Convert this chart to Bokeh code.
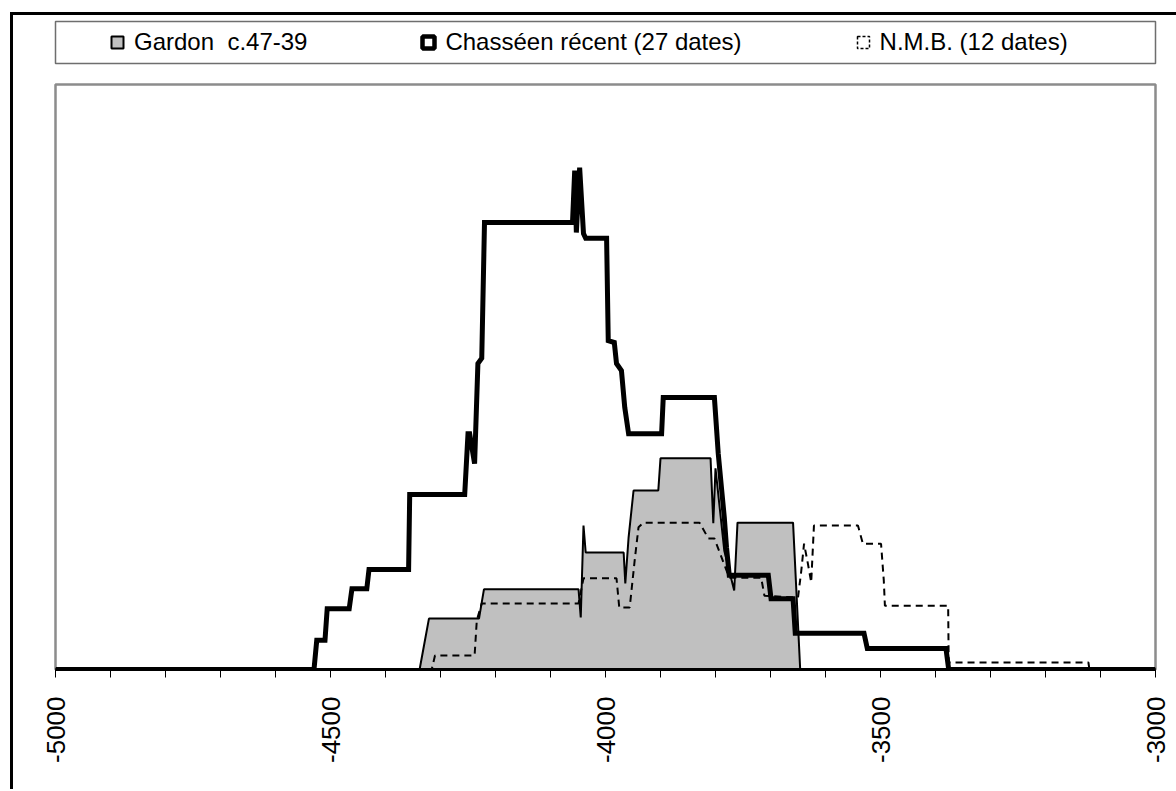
import math
from bokeh.plotting import figure
from bokeh.layouts import column
from bokeh.models import Range1d, FixedTicker, Legend, LegendItem
from bokeh.embed import file_html
from bokeh.resources import INLINE

# ---- data (years BC as negative numbers, relative summed probability) ----
gardon_label = "Gardon  c.47-39"
chasseen_label = "Chasséen récent (27 dates)"
nmb_label = "N.M.B. (12 dates)"

gardon_x = [-5000, -4338, -4330, -4321, -4230, -4221, -4049, -4045, -4040, -4036,
            -3967, -3964, -3958, -3949, -3904, -3900, -3809, -3804, -3800, -3784,
            -3766, -3760, -3659, -3646, -3000]
gardon_y = [0, 0, 4.1, 8.7, 8.7, 13.7, 13.7, 8.9, 24.6, 20.0,
            20.0, 14.7, 22.6, 30.6, 30.6, 36.1, 36.1, 25.0, 34.4, 20.3,
            13.5, 25.1, 25.1, 0, 0]

chasseen_x = [-5000, -4530, -4525, -4510, -4506, -4466, -4461, -4434, -4430, -4358,
              -4356, -4256, -4250, -4247, -4238, -4232, -4225, -4220, -4060, -4056,
              -4053, -4047, -4040, -4036, -3998, -3995, -3984, -3980, -3971, -3965,
              -3958, -3898, -3895, -3802, -3795, -3789, -3784, -3780, -3775, -3704,
              -3699, -3659, -3655, -3530, -3524, -3381, -3376, -3000]
chasseen_y = [0, 0, 5.0, 5.0, 10.4, 10.4, 13.8, 13.8, 17.1, 17.1,
              29.9, 29.9, 40.3, 40.3, 35.2, 52.3, 53.2, 76.4, 76.4, 85.3,
              74.7, 85.8, 74.5, 73.7, 73.7, 56.2, 55.9, 52.3, 51.1, 44.8,
              40.3, 40.3, 46.5, 46.5, 36.9, 30.9, 26.0, 20.9, 16.1, 16.1,
              12.1, 12.1, 6.2, 6.2, 3.6, 3.6, 0, 0]

nmb_x = [-5000, -4316, -4310, -4238, -4234, -4225, -4049, -4040, -3980, -3975,
         -3956, -3947, -3940, -3931, -3829, -3813, -3802, -3775, -3717, -3711,
         -3650, -3644, -3639, -3632, -3626, -3621, -3541, -3532, -3499, -3494,
         -3492, -3377, -3376, -3122, -3120, -3000]
nmb_y = [0, 0, 2.4, 2.4, 8.4, 11.3, 11.3, 15.6, 15.6, 10.6,
         10.6, 18.6, 24.3, 25.1, 25.1, 22.4, 22.4, 15.7, 15.7, 12.6,
         12.3, 16.9, 21.5, 18.1, 14.9, 24.6, 24.6, 21.5, 21.5, 15.2,
         10.9, 10.9, 1.2, 1.2, 0, 0]

major_ticks = [-5000, -4500, -4000, -3500, -3000]
minor_ticks = [-4900, -4800, -4700, -4600, -4400, -4300, -4200, -4100,
               -3900, -3800, -3700, -3600, -3400, -3300, -3200, -3100]
tick_labels = {t: str(t) for t in major_ticks}

FONT = "Liberation Sans"
W = 1163

# ---------------- legend strip (its frame is the legend box) ----------------
leg = figure(width=W, height=56, output_backend="svg", toolbar_location=None,
             x_range=Range1d(0, 1), y_range=Range1d(0, 1),
             x_axis_location=None, y_axis_location=None,
             min_border_left=42, min_border_right=16, min_border_top=6,
             min_border_bottom=8)
leg.outline_line_color = "#6e6e6e"
leg.outline_line_width = 1.5
leg.xgrid.visible = False
leg.ygrid.visible = False
leg.background_fill_color = "white"
leg.border_fill_color = "white"

# swatch renderers for the legend (their single point lies outside the visible range)
lg1 = leg.scatter([-5], [-5], marker="square", fill_color="#c0c0c0", line_color="black",
                  line_width=2)
lg2 = leg.scatter([-5], [-5], marker="square", fill_color="white", line_color="black",
                  line_width=4.5)
lg3 = leg.scatter([-5], [-5], marker="square", fill_color="white", line_color="black",
                  line_width=1.5, line_dash="3 2")

legend = Legend(items=[LegendItem(label=gardon_label, renderers=[lg1]),
                       LegendItem(label=chasseen_label, renderers=[lg2]),
                       LegendItem(label=nmb_label, renderers=[lg3])],
                orientation="horizontal", location=(47, 6),
                glyph_width=30, glyph_height=30, label_standoff=2, spacing=106,
                padding=0, margin=0,
                label_text_font=FONT, label_text_font_size="24px",
                label_text_color="black",
                border_line_alpha=0, background_fill_alpha=0)
leg.add_layout(legend, "center")

# ---------------- main chart ----------------
p = figure(width=W, height=718, output_backend="svg", toolbar_location=None,
           x_range=Range1d(-5000, -3000), y_range=Range1d(0, 100),
           y_axis_location=None,
           min_border_left=40, min_border_right=21, min_border_top=13,
           min_border_bottom=120)

p.background_fill_color = "white"
p.border_fill_color = "white"
p.outline_line_color = "#8c8c8c"
p.outline_line_width = 2.5
p.xgrid.visible = False
p.ygrid.visible = False

p.patch(gardon_x, gardon_y, fill_color="#c0c0c0", line_color="black", line_width=2)
p.line(chasseen_x, chasseen_y, line_color="black", line_width=5, line_join="miter")
p.line(nmb_x, nmb_y, line_color="black", line_width=2, line_dash="7 5")

ax = p.xaxis[0]
ax.ticker = FixedTicker(ticks=major_ticks, minor_ticks=minor_ticks)
ax.major_label_overrides = tick_labels
ax.axis_line_color = "black"
ax.axis_line_width = 3
ax.major_tick_line_color = "black"
ax.minor_tick_line_color = "black"
ax.major_tick_out = 8
ax.major_tick_in = 0
ax.minor_tick_out = 8
ax.minor_tick_in = 0
ax.major_label_orientation = math.pi / 2
ax.major_label_text_font = FONT
ax.major_label_text_font_size = "26px"
ax.major_label_text_color = "black"
ax.major_label_standoff = 19

layout = column(leg, p, spacing=0,
                styles={"border-left": "3px solid black", "border-top": "3px solid black",
                        "margin-left": "10px", "margin-top": "12px"})

open("out.html", "w").write(file_html(layout, INLINE))
